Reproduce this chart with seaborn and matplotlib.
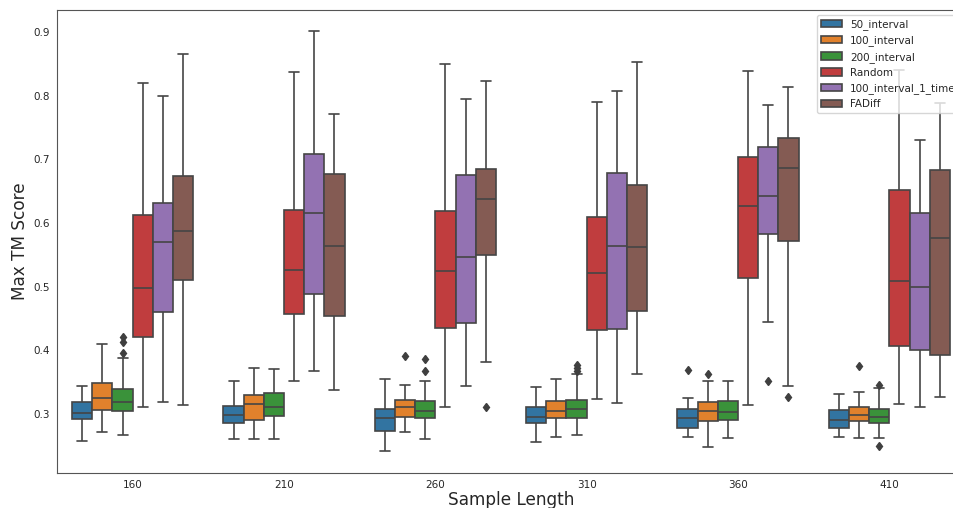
import pandas as pd
import matplotlib
matplotlib.use('Agg')
import matplotlib.pyplot as plt
import seaborn as sns

# categories
lengths = [160, 210, 260, 310, 360, 410]
methods = ['50_interval', '100_interval', '200_interval', 'Random',
           '100_interval_1_time', 'FADiff']

# box statistics: rows = methods, cols = lengths
whisker_lo = [
    [0.258, 0.260, 0.242, 0.256, 0.263, 0.263],
    [0.272, 0.260, 0.271, 0.264, 0.248, 0.262],
    [0.266, 0.260, 0.261, 0.267, 0.262, 0.262],
    [0.310, 0.351, 0.311, 0.323, 0.314, 0.316],
    [0.319, 0.367, 0.343, 0.317, 0.444, 0.311],
    [0.314, 0.338, 0.382, 0.362, 0.344, 0.327],
]
q1 = [
    [0.292, 0.285, 0.273, 0.286, 0.278, 0.277],
    [0.306, 0.291, 0.295, 0.293, 0.289, 0.289],
    [0.305, 0.296, 0.294, 0.293, 0.291, 0.285],
    [0.420, 0.457, 0.435, 0.431, 0.514, 0.407],
    [0.460, 0.488, 0.443, 0.434, 0.582, 0.400],
    [0.511, 0.453, 0.549, 0.462, 0.572, 0.392],
]
median = [
    [0.301, 0.298, 0.293, 0.295, 0.293, 0.290],
    [0.325, 0.315, 0.310, 0.304, 0.304, 0.298],
    [0.318, 0.311, 0.304, 0.307, 0.303, 0.295],
    [0.498, 0.526, 0.524, 0.521, 0.627, 0.509],
    [0.570, 0.615, 0.547, 0.563, 0.642, 0.500],
    [0.588, 0.564, 0.638, 0.562, 0.687, 0.576],
]
q3 = [
    [0.318, 0.313, 0.308, 0.311, 0.308, 0.306],
    [0.348, 0.329, 0.322, 0.320, 0.318, 0.310],
    [0.339, 0.332, 0.320, 0.322, 0.320, 0.308],
    [0.612, 0.620, 0.618, 0.610, 0.703, 0.651],
    [0.631, 0.709, 0.675, 0.678, 0.720, 0.615],
    [0.674, 0.677, 0.684, 0.659, 0.733, 0.683],
]
whisker_hi = [
    [0.343, 0.352, 0.354, 0.342, 0.325, 0.331],
    [0.410, 0.372, 0.346, 0.355, 0.351, 0.335],
    [0.388, 0.371, 0.351, 0.363, 0.352, 0.341],
    [0.820, 0.837, 0.849, 0.790, 0.838, 0.840],
    [0.800, 0.902, 0.795, 0.808, 0.786, 0.731],
    [0.865, 0.771, 0.823, 0.853, 0.814, 0.789],
]
# outliers per (length, method)
outliers = {
    (160, '200_interval'): [0.395, 0.413, 0.420],
    (260, '100_interval'): [0.391],
    (260, '200_interval'): [0.367, 0.386],
    (260, 'FADiff'): [0.311],
    (310, '200_interval'): [0.368, 0.372, 0.376],
    (360, '50_interval'): [0.369],
    (360, '100_interval'): [0.363],
    (360, '100_interval_1_time'): [0.352],
    (360, 'FADiff'): [0.326],
    (410, '100_interval'): [0.375],
    (410, '200_interval'): [0.249, 0.346],
}

# rebuild a sample per box whose quartiles / whiskers give the stats above
rows = []
for i, m in enumerate(methods):
    for j, L in enumerate(lengths):
        vals = ([whisker_lo[i][j]] + [q1[i][j]] * 10 + [median[i][j]] * 10
                + [q3[i][j]] * 10 + [whisker_hi[i][j]]
                + outliers.get((L, m), []))
        for v in vals:
            rows.append({'Sample Length': L, 'method': m, 'score': v})
df = pd.DataFrame(rows)

sns.set_style('white')
plt.rcParams['font.family'] = ['DejaVu Sans']

fig = plt.figure(figsize=(9.54, 5.08), dpi=100)
# axes run past the right edge, as in the (cropped) original
ax = fig.add_axes([57 / 954, 1 - 473 / 508, (965 - 57) / 954, (473 - 10) / 508])

sns.boxplot(data=df, x='Sample Length', y='score', hue='method',
            order=lengths, hue_order=methods, palette='tab10',
            saturation=0.75, width=0.8, linewidth=1.2, linecolor='#454545',
            flierprops=dict(marker='d', markerfacecolor='#3f3f3f',
                            markeredgecolor='#3f3f3f', markersize=4.5),
            ax=ax)

ax.set_ylim(0.207, 0.9345)
ax.set_xlabel('Sample Length', fontsize=12.2, labelpad=1)
ax.set_ylabel('Max TM Score', fontsize=12.2, labelpad=3.5)
ax.tick_params(axis='both', labelsize=7.5, length=0, pad=5)
for s in ax.spines.values():
    s.set_color('#555555')

ax.legend(loc='upper right', fontsize=7.5, frameon=True)

plt.savefig('out.png', dpi=100)
print("Saved: out.png")
